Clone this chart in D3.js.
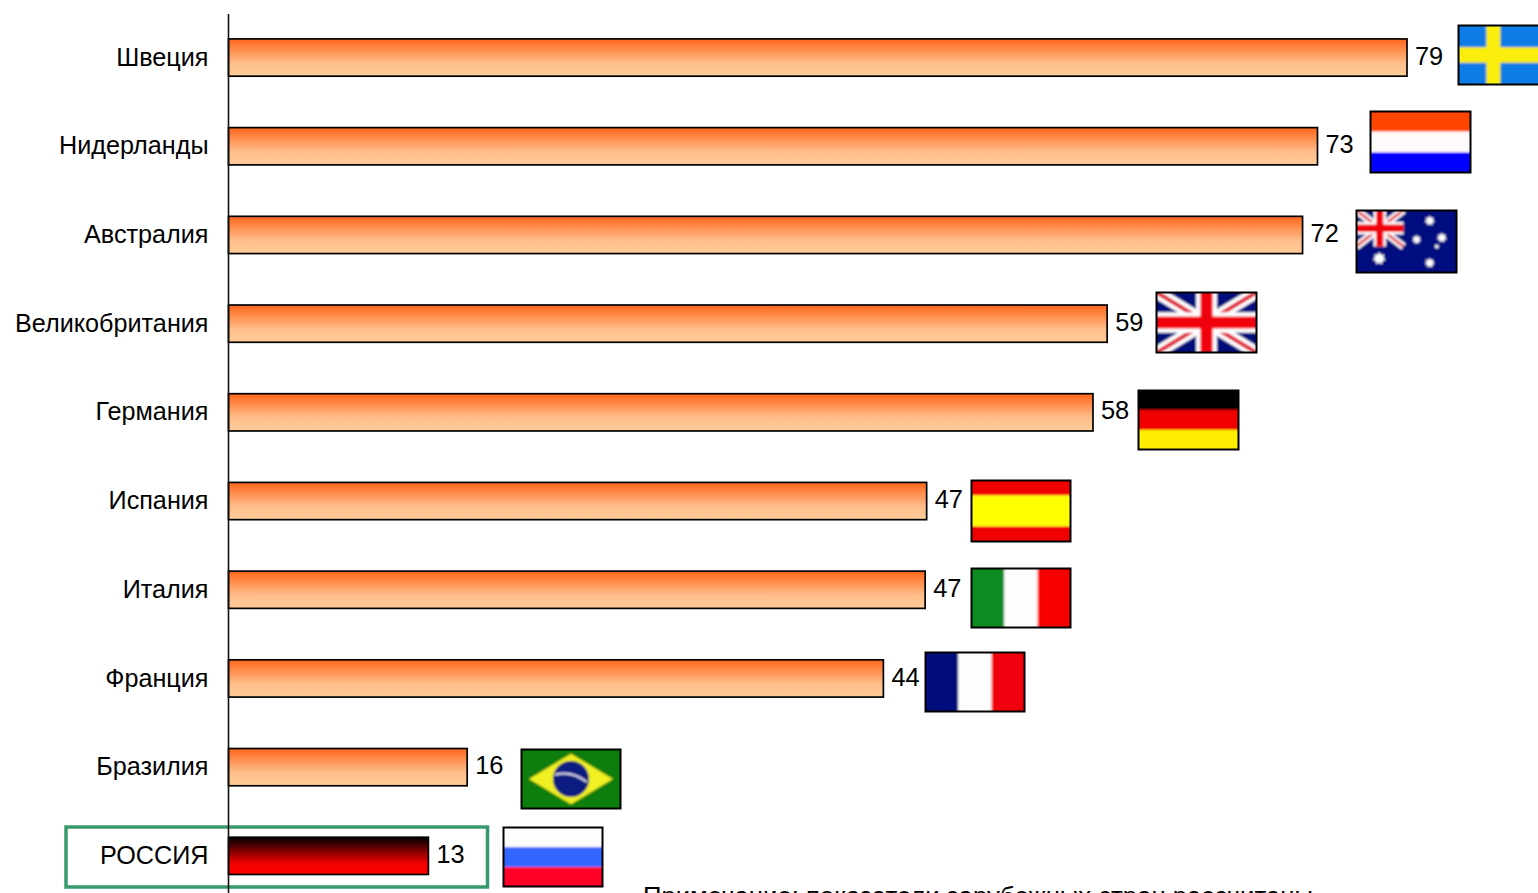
<!DOCTYPE html>
<html lang="ru"><head><meta charset="utf-8">
<script src="https://cdn.jsdelivr.net/npm/d3@7/dist/d3.min.js"></script>
<style>html,body{margin:0;padding:0;background:#fff;overflow:hidden}svg{display:block}
text{font-family:"Liberation Sans",Arial,sans-serif;font-size:25.4px;fill:#000}</style>
</head><body><div id="chart"></div>
<script>
const categories = ["Швеция","Нидерланды","Австралия","Великобритания","Германия","Испания","Италия","Франция","Бразилия","РОССИЯ"];
const values = [79,73,72,58.9,57.95,46.8,46.7,43.9,16,13.4];
const flagNames = ["se","nl","au","gb","de","es","it","fr","br","ru"];
const noteText = "Примечание: показатели зарубежных стран рассчитаны";
const highlighted = "РОССИЯ";

const W=1538,H=893;
const x=d3.scaleLinear().domain([0,79]).range([228.5,1407]);
const y=d3.scaleBand().domain(categories).range([13.2,900.2]).paddingInner(.58).paddingOuter(.29);
const svg=d3.select("#chart").append("svg").attr("width",W).attr("height",H);
const defs=svg.append("defs");
function grad(id,stops){const g=defs.append("linearGradient").attr("id",id).attr("x1",0).attr("y1",0).attr("x2",0).attr("y2",1);
 stops.forEach(s=>g.append("stop").attr("offset",s[0]).attr("stop-color",s[1]));}
grad("barOrange",[[0,"#ff661a"],[.65,"#ffbe8c"],[1,"#ffcc99"]]);
grad("barRed",[[0,"#000"],[.7,"#f20000"],[1,"#ff0000"]]);
const blur=defs.append("filter").attr("id","soft").attr("x","-2%").attr("y","-2%").attr("width","104%").attr("height","104%");
blur.append("feGaussianBlur").attr("stdDeviation",.9);

// highlight frame
svg.append("rect").attr("x",66).attr("y",827).attr("width",421.5).attr("height",60)
 .attr("fill","none").attr("stroke","#389a6c").attr("stroke-width",3.5);

// bars
svg.append("g").selectAll("rect").data(categories).join("rect")
 .attr("x",x(0)).attr("y",d=>y(d)).attr("height",y.bandwidth())
 .attr("width",(d,i)=>x(values[i])-x(0))
 .attr("fill",d=>d===highlighted?"url(#barRed)":"url(#barOrange)")
 .attr("stroke","#000").attr("stroke-width",1.7);

// axis
const axis=d3.axisLeft(y).tickSize(0).tickPadding(20);
const ag=svg.append("g").attr("transform","translate(228.5,0)").call(axis);
ag.select(".domain").attr("stroke","#111").attr("stroke-width",1.6).attr("d","M0,14V893");
ag.selectAll("text").style("font-family",'"Liberation Sans",Arial,sans-serif').style("font-size","25.2px").attr("fill","#000").attr("dy","0.32em");

// value labels
svg.append("g").selectAll("text").data(categories).join("text")
 .attr("x",(d,i)=>x(values[i])+8).attr("y",d=>y(d)+y.bandwidth()/2-1).attr("dy","0.32em")
 .text((d,i)=>Math.round(values[i]));

// note (clipped by the bottom edge, as in the reference)
svg.append("text").attr("x",643).attr("y",905).style("font-size","25.7px").text(noteText);

// flags: pictures placed beside bars
const flagSpots={se:[1458,25,101,60],nl:[1370,111,101,62],au:[1356,210,101,63],gb:[1156,292,101,61],de:[1138,390,101,60],
 es:[971,480,100,62],it:[971,568,100,60],fr:[925,652,100,60],br:[521,749,100,60],ru:[503,827,100,60]};
function stripesH(g,w,h,cols,ratios){let yy=0;cols.forEach((c,i)=>{const hh=h*ratios[i];g.append("rect").attr("x",-3).attr("y",i?yy:-3).attr("width",w+6).attr("height",i?hh+(i===cols.length-1?3:0):hh+3).attr("fill",c);yy+=hh;});}
function stripesV(g,w,h,cols){cols.forEach((c,i)=>g.append("rect").attr("x",i?w*i/3:-3).attr("y",-3).attr("width",i?w/3+3:w/3+3).attr("height",h+6).attr("fill",c));}
function star(g,cx,cy,r,pts=7){const a=[];for(let i=0;i<pts*2;i++){const rr=i%2?r*.62:r,t=Math.PI*i/pts-Math.PI/2;a.push([cx+rr*Math.cos(t),cy+rr*Math.sin(t)]);}
 g.append("polygon").attr("points",a.join(" ")).attr("fill","#fff");}
function jack(g,w,h){
 g.append("rect").attr("x",-3).attr("y",-3).attr("width",w+6).attr("height",h+6).attr("fill","#00107a");
 const l=(sw,c,a,b,cc,dd)=>g.append("line").attr("x1",a).attr("y1",b).attr("x2",cc).attr("y2",dd).attr("stroke",c).attr("stroke-width",sw);
 l(h*.2,"#fff",0,0,w,h);l(h*.2,"#fff",w,0,0,h);l(h*.07,"#e01830",0,0,w,h);l(h*.07,"#e01830",w,0,0,h);
 l(h*.34,"#fff",w/2,0,w/2,h);l(h*.34,"#fff",0,h/2,w,h/2);l(h*.2,"#f00010",w/2,0,w/2,h);l(h*.2,"#f00010",0,h/2,w,h/2);
}
const painters={
 se(g,w,h){g.append("rect").attr("x",-3).attr("y",-3).attr("width",w+6).attr("height",h+6).attr("fill","#0a7ce6");
  g.append("rect").attr("x",w*.28).attr("y",-3).attr("width",w*.14).attr("height",h+6).attr("fill","#fbee10");
  g.append("rect").attr("x",-3).attr("y",h*.37).attr("width",w+6).attr("height",h*.26).attr("fill","#fbee10");},
 nl(g,w,h){stripesH(g,w,h,["#ff4500","#fffafa","#0000ff"],[1/3,1/3,1/3]);},
 au(g,w,h){g.append("rect").attr("x",-3).attr("y",-3).attr("width",w+6).attr("height",h+6).attr("fill","#000a80");
  jack(g.append("g"),w*.47,h*.58);
  star(g,w*.23,h*.77,6.5);star(g,w*.73,h*.17,5);star(g,w*.6,h*.47,4.5);star(g,w*.85,h*.44,5);star(g,w*.8,h*.58,2.5);star(g,w*.73,h*.84,5);},
 gb(g,w,h){jack(g,w,h);},
 de(g,w,h){stripesH(g,w,h,["#000","#f00000","#ffee00"],[1/3,1/3,1/3]);},
 es(g,w,h){stripesH(g,w,h,["#f00000","#ffff00","#f00000"],[.25,.5,.25]);},
 it(g,w,h){stripesV(g,w,h,["#0a8a20","#fdfdfd","#f80000"]);},
 fr(g,w,h){stripesV(g,w,h,["#00107a","#fdfdfd","#f00010"]);},
 br(g,w,h){g.append("rect").attr("x",-3).attr("y",-3).attr("width",w+6).attr("height",h+6).attr("fill","#0a7d10");
  g.append("polygon").attr("points",[[w*.08,h/2],[w/2,h*.08],[w*.92,h/2],[w/2,h*.92]].join(" ")).attr("fill","#f0f020");
  g.append("circle").attr("cx",w/2).attr("cy",h/2).attr("r",h*.3).attr("fill","#101a80");
  g.append("path").attr("d",`M${w*.34},${h*.43}Q${w*.5},${h*.35} ${w*.66},${h*.55}`).attr("fill","none").attr("stroke","#dde").attr("stroke-width",2);},
 ru(g,w,h){stripesH(g,w,h,["#fdfdfd","#3366ff","#ff0028"],[1/3,1/3,1/3]);}
};
const fg=svg.append("g").selectAll("g").data(flagNames).join("g")
 .attr("transform",d=>`translate(${flagSpots[d][0]},${flagSpots[d][1]})`);
fg.each(function(d){const [,,w,h]=flagSpots[d];const g=d3.select(this);
 defs.append("clipPath").attr("id","c-"+d).append("rect").attr("width",w).attr("height",h);
 const art=g.append("g").attr("clip-path",`url(#c-${d})`).append("g").attr("filter","url(#soft)");
 painters[d](art,w,h);
 g.append("rect").attr("x",.5).attr("y",.5).attr("width",w-1).attr("height",h-1).attr("fill","none").attr("stroke","#000").attr("stroke-width",2);
});
</script></body></html>
